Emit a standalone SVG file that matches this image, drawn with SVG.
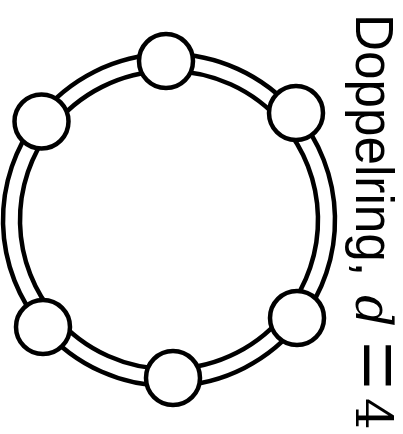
<svg xmlns="http://www.w3.org/2000/svg" width="403" height="434" viewBox="0 0 403 434">
<style>
.edge{fill:none;stroke:#000;stroke-width:4.5}
.node{fill:#fff;stroke:#000;stroke-width:4.5}
.lbl{font-family:"Liberation Sans",Arial,sans-serif;font-size:53px;fill:#000}
.math{font-family:"DejaVu Serif","Liberation Serif",serif;font-size:50px;fill:#000}
.eq{font-family:"Liberation Serif","Times New Roman",serif;font-size:64px;fill:#000}
</style>
<rect width="403" height="434" fill="#fff"/>
<g id="connectors">
<path class="edge" d="M165.87,54.03 A166,166 0 0 1 295.96,113.05 M166.19,71.03 A149,149 0 0 1 282.96,124"/>
<path class="edge" d="M295.96,113.05 A166,166 0 0 1 300.8,320.91 M282.96,124 A149,149 0 0 1 287.31,310.58"/>
<path class="edge" d="M300.8,320.91 A166,166 0 0 1 173.2,385.95 M287.31,310.58 A149,149 0 0 1 172.77,368.95"/>
<path class="edge" d="M173.2,385.95 A166,166 0 0 1 42.47,327.45 M172.77,368.95 A149,149 0 0 1 55.43,316.45"/>
<path class="edge" d="M42.47,327.45 A166,166 0 0 1 37.63,118.51 M55.43,316.45 A149,149 0 0 1 51.08,128.9"/>
<path class="edge" d="M37.63,118.51 A166,166 0 0 1 165.87,54.03 M51.08,128.9 A149,149 0 0 1 166.19,71.03"/>
</g>
<g id="n1"><circle class="node" cx="166" cy="61" r="27"/></g>
<g id="n2"><circle class="node" cx="296" cy="113" r="27"/></g>
<g id="n3"><circle class="node" cx="297" cy="318" r="27"/></g>
<g id="n4"><circle class="node" cx="173" cy="378" r="27"/></g>
<g id="n5"><circle class="node" cx="43" cy="327" r="27"/></g>
<g id="n6"><circle class="node" cx="41.5" cy="121.5" r="27"/></g>
<g id="title" transform="translate(356,0) rotate(90)">
<text class="lbl" x="14" y="0" textLength="262" lengthAdjust="spacingAndGlyphs">Doppelring,</text>
<text class="math" x="295" y="0" font-style="italic">d</text>
<text class="eq" transform="translate(341,14) scale(1.35,1.7)" x="0" y="0">=</text>
<text class="math" x="398" y="0">4</text>
</g>
</svg>
